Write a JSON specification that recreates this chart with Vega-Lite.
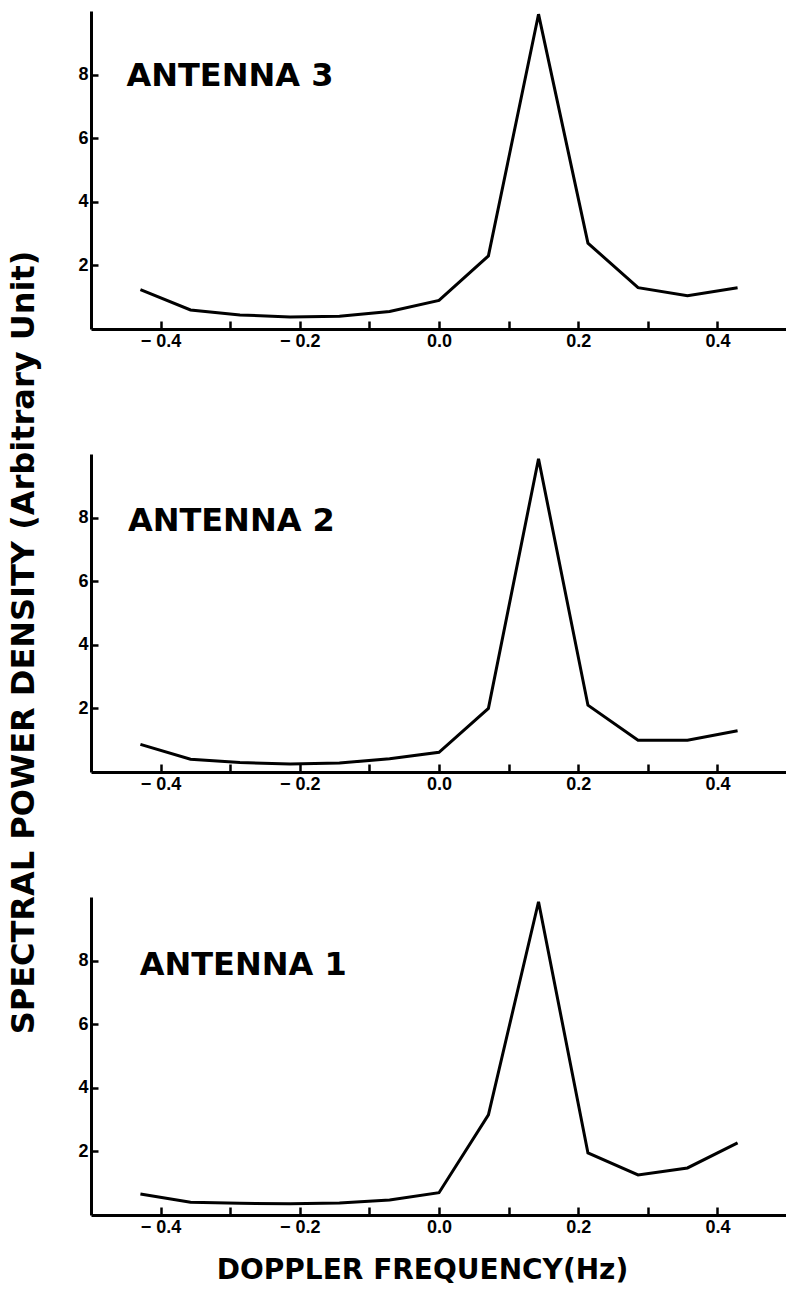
{
  "$schema": "https://vega.github.io/schema/vega-lite/v6.json",
  "background": "white",
  "padding": {"left": 6, "top": 8, "right": 0, "bottom": 10},
  "datasets": {
    "spectra": [
      {"antenna": 3, "freq": -0.429, "power": 1.24},
      {"antenna": 3, "freq": -0.357, "power": 0.6},
      {"antenna": 3, "freq": -0.286, "power": 0.44},
      {"antenna": 3, "freq": -0.214, "power": 0.38},
      {"antenna": 3, "freq": -0.143, "power": 0.4},
      {"antenna": 3, "freq": -0.071, "power": 0.55},
      {"antenna": 3, "freq": 0.0, "power": 0.9},
      {"antenna": 3, "freq": 0.071, "power": 2.3},
      {"antenna": 3, "freq": 0.143, "power": 9.9},
      {"antenna": 3, "freq": 0.214, "power": 2.7},
      {"antenna": 3, "freq": 0.286, "power": 1.3},
      {"antenna": 3, "freq": 0.357, "power": 1.05},
      {"antenna": 3, "freq": 0.429, "power": 1.3},
      {"antenna": 2, "freq": -0.429, "power": 0.87},
      {"antenna": 2, "freq": -0.357, "power": 0.4},
      {"antenna": 2, "freq": -0.286, "power": 0.3},
      {"antenna": 2, "freq": -0.214, "power": 0.25},
      {"antenna": 2, "freq": -0.143, "power": 0.28},
      {"antenna": 2, "freq": -0.071, "power": 0.42},
      {"antenna": 2, "freq": 0.0, "power": 0.62},
      {"antenna": 2, "freq": 0.071, "power": 2.0},
      {"antenna": 2, "freq": 0.143, "power": 9.85},
      {"antenna": 2, "freq": 0.214, "power": 2.1},
      {"antenna": 2, "freq": 0.286, "power": 1.0},
      {"antenna": 2, "freq": 0.357, "power": 1.0},
      {"antenna": 2, "freq": 0.429, "power": 1.3},
      {"antenna": 1, "freq": -0.429, "power": 0.66},
      {"antenna": 1, "freq": -0.357, "power": 0.4},
      {"antenna": 1, "freq": -0.286, "power": 0.37},
      {"antenna": 1, "freq": -0.214, "power": 0.35},
      {"antenna": 1, "freq": -0.143, "power": 0.38},
      {"antenna": 1, "freq": -0.071, "power": 0.47},
      {"antenna": 1, "freq": 0.0, "power": 0.7},
      {"antenna": 1, "freq": 0.071, "power": 3.15},
      {"antenna": 1, "freq": 0.143, "power": 9.85},
      {"antenna": 1, "freq": 0.214, "power": 1.95},
      {"antenna": 1, "freq": 0.286, "power": 1.26},
      {"antenna": 1, "freq": 0.357, "power": 1.48},
      {"antenna": 1, "freq": 0.429, "power": 2.27}
    ],
    "labels": [
      {"antenna": 3, "label": "ANTENNA 3"},
      {"antenna": 2, "label": "ANTENNA 2"},
      {"antenna": 1, "label": "ANTENNA 1"}
    ]
  },
  "bounds": "flush",
  "spacing": 125,
  "vconcat": [
    {
      "width": 696,
      "height": 318,
      "layer": [
        {
          "data": {"name": "spectra"},
          "transform": [{"filter": "datum.antenna === 3"}],
          "mark": {"type": "line", "color": "black", "strokeWidth": 3, "strokeJoin": "miter"},
          "encoding": {
            "x": {"field": "freq", "type": "quantitative", "scale": {"domain": [-0.5, 0.5], "nice": false, "zero": false},
              "axis": {"title": null, "values": [-0.4, -0.3, -0.2, -0.1, 0, 0.1, 0.2, 0.3, 0.4],
                "labelExpr": "abs(round(datum.value * 10)) % 2 == 0 ? (datum.value < 0 ? '− ' + format(-datum.value, '.1f') : format(datum.value, '.1f')) : ''",
                "grid": false, "domainColor": "black", "domainWidth": 3, "ticks": true, "tickColor": "black", "tickWidth": 2.5, "tickSize": -8,
                "labelPadding": 11, "labelFont": "Liberation Sans", "labelFontSize": 18, "labelFontWeight": "bold", "labelColor": "black", "labelOverlap": false}},
            "y": {"field": "power", "type": "quantitative", "scale": {"domain": [0, 10], "nice": false},
              "axis": {"title": null, "values": [2, 4, 6, 8], "format": "d",
                "grid": false, "domainColor": "black", "domainWidth": 3, "ticks": true, "tickColor": "black", "tickWidth": 2.5, "tickSize": -7,
                "labelPadding": 10, "labelFont": "Liberation Sans", "labelFontSize": 18, "labelFontWeight": "bold", "labelColor": "black"}}
          }
        },
        {
          "data": {"name": "labels"},
          "transform": [{"filter": "datum.antenna === 3"}],
          "mark": {"type": "text", "font": "DejaVu Sans", "fontWeight": "bold", "fontSize": 32, "align": "left", "baseline": "middle", "color": "black"},
          "encoding": {
            "x": {"datum": -0.449, "type": "quantitative"},
            "y": {"datum": 7.95, "type": "quantitative"},
            "text": {"field": "label"}
          }
        }
      ]
    },
    {
      "width": 696,
      "height": 318,
      "layer": [
        {
          "data": {"name": "spectra"},
          "transform": [{"filter": "datum.antenna === 2"}],
          "mark": {"type": "line", "color": "black", "strokeWidth": 3, "strokeJoin": "miter"},
          "encoding": {
            "x": {"field": "freq", "type": "quantitative", "scale": {"domain": [-0.5, 0.5], "nice": false, "zero": false},
              "axis": {"title": null, "values": [-0.4, -0.3, -0.2, -0.1, 0, 0.1, 0.2, 0.3, 0.4],
                "labelExpr": "abs(round(datum.value * 10)) % 2 == 0 ? (datum.value < 0 ? '− ' + format(-datum.value, '.1f') : format(datum.value, '.1f')) : ''",
                "grid": false, "domainColor": "black", "domainWidth": 3, "ticks": true, "tickColor": "black", "tickWidth": 2.5, "tickSize": -8,
                "labelPadding": 11, "labelFont": "Liberation Sans", "labelFontSize": 18, "labelFontWeight": "bold", "labelColor": "black", "labelOverlap": false}},
            "y": {"field": "power", "type": "quantitative", "scale": {"domain": [0, 10], "nice": false},
              "axis": {"title": "SPECTRAL POWER DENSITY (Arbitrary Unit)", "titleX": -68, "titleY": 188, "titleAngle": -90, "titleAlign": "center", "titleBaseline": "middle", "titleFont": "DejaVu Sans", "titleFontWeight": "bold", "titleFontSize": 32, "titleColor": "black",
                "values": [2, 4, 6, 8], "format": "d",
                "grid": false, "domainColor": "black", "domainWidth": 3, "ticks": true, "tickColor": "black", "tickWidth": 2.5, "tickSize": -7,
                "labelPadding": 10, "labelFont": "Liberation Sans", "labelFontSize": 18, "labelFontWeight": "bold", "labelColor": "black"}}
          }
        },
        {
          "data": {"name": "labels"},
          "transform": [{"filter": "datum.antenna === 2"}],
          "mark": {"type": "text", "font": "DejaVu Sans", "fontWeight": "bold", "fontSize": 32, "align": "left", "baseline": "middle", "color": "black"},
          "encoding": {
            "x": {"datum": -0.447, "type": "quantitative"},
            "y": {"datum": 7.9, "type": "quantitative"},
            "text": {"field": "label"}
          }
        }
      ]
    },
    {
      "width": 696,
      "height": 318,
      "layer": [
        {
          "data": {"name": "spectra"},
          "transform": [{"filter": "datum.antenna === 1"}],
          "mark": {"type": "line", "color": "black", "strokeWidth": 3, "strokeJoin": "miter"},
          "encoding": {
            "x": {"field": "freq", "type": "quantitative", "scale": {"domain": [-0.5, 0.5], "nice": false, "zero": false},
              "axis": {"title": "DOPPLER FREQUENCY(Hz)", "titleX": 331, "titleY": 55, "titleAlign": "center", "titleBaseline": "middle", "titleFont": "DejaVu Sans", "titleFontWeight": "bold", "titleFontSize": 28, "titleColor": "black",
                "values": [-0.4, -0.3, -0.2, -0.1, 0, 0.1, 0.2, 0.3, 0.4],
                "labelExpr": "abs(round(datum.value * 10)) % 2 == 0 ? (datum.value < 0 ? '− ' + format(-datum.value, '.1f') : format(datum.value, '.1f')) : ''",
                "grid": false, "domainColor": "black", "domainWidth": 3, "ticks": true, "tickColor": "black", "tickWidth": 2.5, "tickSize": -8,
                "labelPadding": 11, "labelFont": "Liberation Sans", "labelFontSize": 18, "labelFontWeight": "bold", "labelColor": "black", "labelOverlap": false}},
            "y": {"field": "power", "type": "quantitative", "scale": {"domain": [0, 10], "nice": false},
              "axis": {"title": null, "values": [2, 4, 6, 8], "format": "d",
                "grid": false, "domainColor": "black", "domainWidth": 3, "ticks": true, "tickColor": "black", "tickWidth": 2.5, "tickSize": -7,
                "labelPadding": 10, "labelFont": "Liberation Sans", "labelFontSize": 18, "labelFontWeight": "bold", "labelColor": "black"}}
          }
        },
        {
          "data": {"name": "labels"},
          "transform": [{"filter": "datum.antenna === 1"}],
          "mark": {"type": "text", "font": "DejaVu Sans", "fontWeight": "bold", "fontSize": 32, "align": "left", "baseline": "middle", "color": "black"},
          "encoding": {
            "x": {"datum": -0.43, "type": "quantitative"},
            "y": {"datum": 7.87, "type": "quantitative"},
            "text": {"field": "label"}
          }
        }
      ]
    }
  ],
  "config": {
    "view": {"stroke": null}
  }
}
